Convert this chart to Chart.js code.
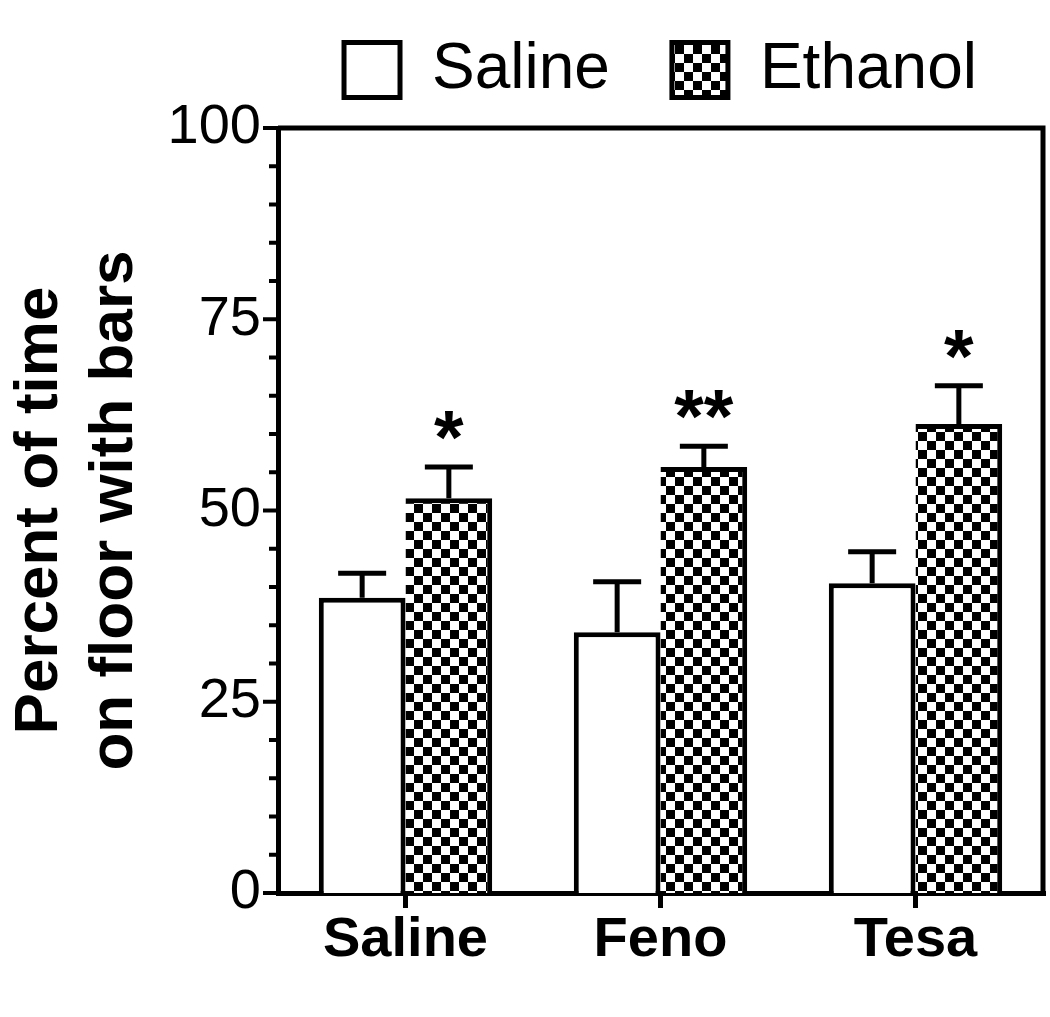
<!DOCTYPE html>
<html>
<head>
<meta charset="utf-8">
<script src="https://cdn.jsdelivr.net/npm/chart.js@4.4.1/dist/chart.umd.min.js"></script>
<style>
  html, body { margin: 0; padding: 0; background: #fff; }
  #wrap { width: 1050px; height: 1017px; position: relative; }
</style>
</head>
<body>
<div id="wrap"><canvas id="chart"></canvas></div>
<script>
var groups = ['Saline', 'Feno', 'Tesa'];
var salineMean = [38.6, 34.1, 40.5];
var salineSem = [3.2, 6.6, 4.1];
var ethanolMean = [51.6, 55.7, 61.3];
var ethanolSem = [4.1, 2.7, 5.0];
var ethanolStars = ['*', '**', '*'];
var yLabels = [0, 25, 50, 75, 100];

var FONT = "'Liberation Sans', Arial, sans-serif";

document.addEventListener('DOMContentLoaded', function() {
  var canvas = document.getElementById('chart');
  var ctx = canvas.getContext('2d');

  // checkerboard fill for the ethanol bars
  var cell = 9;
  var tile = document.createElement('canvas');
  tile.width = tile.height = cell * 2;
  var t = tile.getContext('2d');
  t.fillStyle = '#fff';
  t.fillRect(0, 0, cell * 2, cell * 2);
  t.fillStyle = '#000';
  t.fillRect(0, 0, cell, cell);
  t.fillRect(cell, cell, cell, cell);
  var checker = ctx.createPattern(tile, 'repeat');

  var errorBars = {
    id: 'errorBars',
    afterDatasetsDraw: function(chart) {
      var c = chart.ctx, y = chart.scales.y;
      var sems = [salineSem, ethanolSem];
      c.save();
      c.strokeStyle = '#000';
      c.lineWidth = 5;
      chart.data.datasets.forEach(function(ds, di) {
        chart.getDatasetMeta(di).data.forEach(function(bar, i) {
          var top = y.getPixelForValue(ds.data[i] + sems[di][i]);
          c.beginPath();
          c.moveTo(bar.x, bar.y);
          c.lineTo(bar.x, top);
          c.moveTo(bar.x - 24, top);
          c.lineTo(bar.x + 24, top);
          c.stroke();
          if (di === 1 && ethanolStars[i]) {
            c.fillStyle = '#000';
            c.font = 'bold 76px ' + FONT;
            c.textAlign = 'center';
            c.textBaseline = 'alphabetic';
            c.fillText(ethanolStars[i], bar.x, top - 4);
          }
        });
      });
      c.restore();
    }
  };

  // frame on top/right plus major and minor ticks on the y axis
  var frame = {
    id: 'frame',
    afterLayout: function(chart) {
      // lift the legend a bit further above the plot
      chart.legend.top -= 16;
      chart.legend.bottom -= 16;
    },
    afterDraw: function(chart) {
      var c = chart.ctx, a = chart.chartArea, y = chart.scales.y;
      c.save();
      c.strokeStyle = '#000';
      c.lineWidth = 5;
      c.beginPath();
      c.moveTo(a.left, a.top);
      c.lineTo(a.right, a.top);
      c.lineTo(a.right, a.bottom);
      c.stroke();
      c.lineWidth = 4;
      y.ticks.forEach(function(tk) {
        var py = y.getPixelForValue(tk.value);
        var len = yLabels.indexOf(tk.value) >= 0 ? 15 : 9;
        c.beginPath();
        c.moveTo(a.left - len, py);
        c.lineTo(a.left, py);
        c.stroke();
      });
      c.restore();
    }
  };

  new Chart(ctx, {
    type: 'bar',
    data: {
      labels: groups,
      datasets: [{
        label: 'Saline',
        data: salineMean,
        backgroundColor: '#fff',
        borderColor: '#000',
        borderWidth: { top: 5, left: 5, right: 5, bottom: 0 }
      }, {
        label: 'Ethanol',
        data: ethanolMean,
        backgroundColor: checker,
        borderColor: '#000',
        borderWidth: { top: 5, left: 0, right: 5, bottom: 0 }
      }]
    },
    options: {
      responsive: true,
      maintainAspectRatio: false,
      animation: false,
      layout: { padding: { top: -8, right: 7, bottom: 0, left: 0 } },
      datasets: { bar: { categoryPercentage: 0.68, barPercentage: 1 } },
      plugins: {
        tooltip: { enabled: false },
        legend: {
          position: 'top',
          fullSize: false,
          labels: {
            boxWidth: 56,
            boxHeight: 55,
            padding: 62,
            color: '#000',
            font: { family: FONT, size: 64 },
            generateLabels: function(chart) {
              var items = Chart.defaults.plugins.legend.labels.generateLabels(chart);
              items.forEach(function(it) { it.lineWidth = 5; it.strokeStyle = '#000'; });
              return items;
            }
          }
        }
      },
      scales: {
        x: {
          grid: { drawOnChartArea: false, offset: false, tickLength: 15, lineWidth: 5, color: '#000' },
          border: { display: true, width: 5, color: '#000' },
          ticks: { color: '#000', padding: -1, font: { family: FONT, size: 56, weight: 'bold' } },
          afterFit: function(s) { s.height = 124; }
        },
        y: {
          min: 0,
          max: 100,
          grid: { display: false },
          border: { display: true, width: 5, color: '#000' },
          ticks: {
            stepSize: 5,
            autoSkip: false,
            padding: 9,
            color: '#000',
            font: { family: FONT, size: 56 },
            callback: function(v) { return yLabels.indexOf(v) >= 0 ? v : ''; }
          },
          title: {
            display: true,
            text: ['Percent of time', 'on floor with bars'],
            color: '#000',
            padding: { top: 3, bottom: 0 },
            font: { family: FONT, size: 62, weight: 'bold', lineHeight: 1.2 }
          },
          afterFit: function(s) { s.width = 278; s.paddingTop = 128; }
        }
      }
    },
    plugins: [errorBars, frame]
  });
});
</script>
</body>
</html>
